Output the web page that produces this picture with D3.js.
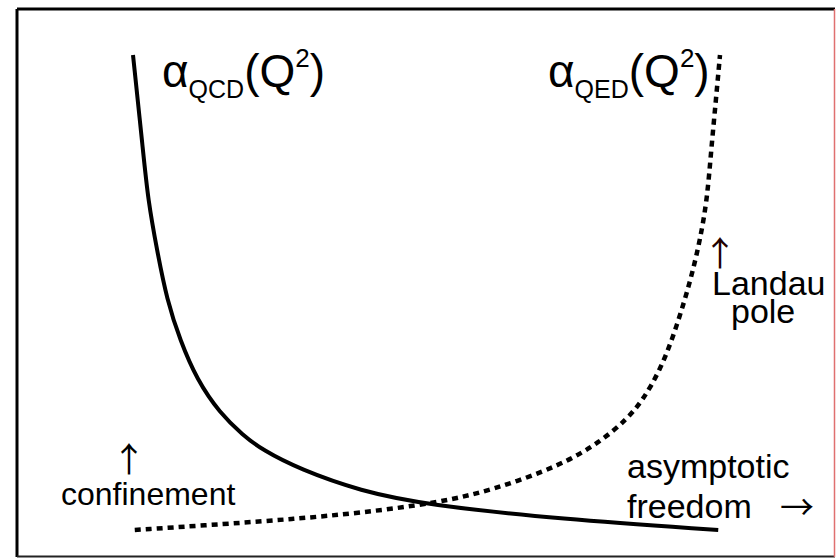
<!DOCTYPE html>
<html>
<head>
<meta charset="utf-8">
<script src="https://cdn.jsdelivr.net/npm/d3@7"></script>
<style>
  body { margin: 0; background: #fff; }
  text { font-family: "Liberation Sans", Arial, sans-serif; fill: #000; }
  tspan.arrow { font-family: "Noto Sans CJK JP", "DejaVu Sans", sans-serif; }
</style>
</head>
<body>
<svg id="chart" width="838" height="559"></svg>
<script>
// schematic running couplings, x = log Q^2 (0..100), y = coupling (0..100)
var qcdX = [0, 1.7, 2.56, 4.09, 5.79, 8.01, 10.9, 14.8, 18.7, 22.1, 28.4, 38.7, 50.1, 72.7, 99.7];
var qcdY = [100, 80.0, 69.5, 58.9, 48.4, 40.0, 31.6, 24.6, 20.0, 16.8, 12.8, 8.2, 5.3, 2.3, 0];
var qedX = [0.3, 16.0, 27.3, 38.7, 51.8, 61.3, 72.7, 79.6, 84.2, 86.9, 89.8, 92.0, 94.0, 95.4, 96.6, 97.8, 98.5, 99.3, 100];
var qedY = [0, 1.3, 2.3, 3.6, 5.7, 8.4, 13.5, 18.5, 23.4, 27.4, 33.7, 40.6, 48.4, 54.7, 61.1, 69.5, 80.0, 90.5, 100];

var svg = d3.select("#chart");

var x = d3.scaleLinear().domain([0, 100]).range([133, 720]);
var y = d3.scaleLinear().domain([0, 100]).range([530, 55]);

// frame
svg.append("line").attr("x1", 17).attr("y1", 9).attr("x2", 835).attr("y2", 9)
	.attr("stroke", "#000").attr("stroke-width", 3);
svg.append("line").attr("x1", 17).attr("y1", 9).attr("x2", 17).attr("y2", 557)
	.attr("stroke", "#000").attr("stroke-width", 3);
svg.append("line").attr("x1", 17).attr("y1", 556.5).attr("x2", 835).attr("y2", 556.5)
	.attr("stroke", "#222").attr("stroke-width", 2);
svg.append("line").attr("x1", 834.5).attr("y1", 9).attr("x2", 834.5).attr("y2", 557)
	.attr("stroke", "#e07070").attr("stroke-width", 1.5);

var line = d3.line()
	.x(function(d) { return x(d[0]); })
	.y(function(d) { return y(d[1]); })
	.curve(d3.curveBasis);

svg.append("path")
	.datum(d3.zip(qcdX, qcdY))
	.attr("fill", "none")
	.attr("stroke", "#000")
	.attr("stroke-width", 4)
	.attr("d", line);

svg.append("path")
	.datum(d3.zip(qedX, qedY))
	.attr("fill", "none")
	.attr("stroke", "#000")
	.attr("stroke-width", 4.5)
	.attr("stroke-dasharray", "6,5")
	.attr("d", line);

// labels
function coupling(x0, sub) {
	var t = svg.append("text").attr("x", x0).attr("y", 87).attr("font-size", 46);
	t.append("tspan").text("α");
	t.append("tspan").attr("font-size", 25).attr("dy", 11).text(sub);
	t.append("tspan").attr("dy", -11).text("(Q");
	t.append("tspan").attr("font-size", 26).attr("dy", -20).text("2");
	t.append("tspan").attr("dy", 20).text(")");
}
coupling(162, "QCD");
coupling(548, "QED");

var conf = svg.append("text").attr("font-size", 32);
conf.append("tspan").attr("class", "arrow").attr("x", 129).attr("y", 472)
	.attr("font-size", 34).attr("text-anchor", "middle").text("↑");
conf.append("tspan").attr("x", 61).attr("y", 505).text("confinement");

var pole = svg.append("text").attr("font-size", 34);
pole.append("tspan").attr("class", "arrow").attr("x", 720).attr("y", 266)
	.attr("font-size", 34).attr("text-anchor", "middle").attr("fill", "#200").text("↑");
pole.append("tspan").attr("x", 712).attr("y", 295).text("Landau");
pole.append("tspan").attr("x", 731).attr("y", 323).text("pole");

var free = svg.append("text").attr("font-size", 34);
free.append("tspan").attr("x", 627).attr("y", 478).text("asymptotic");
free.append("tspan").attr("x", 627).attr("y", 518).text("freedom");
free.append("tspan").attr("class", "arrow").attr("x", 797).attr("y", 520)
	.attr("text-anchor", "middle").text("→");
</script>
</body>
</html>
